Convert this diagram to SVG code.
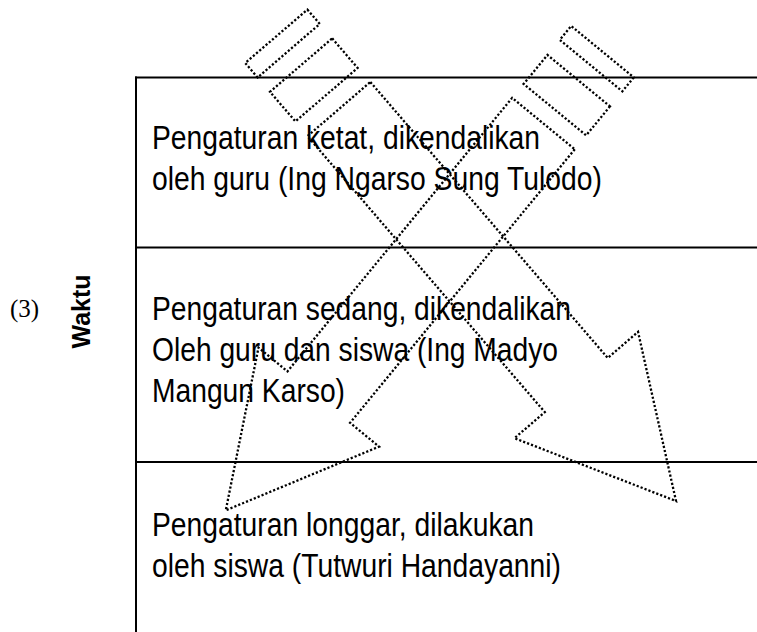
<svg xmlns="http://www.w3.org/2000/svg" width="757" height="632" viewBox="0 0 757 632">
<style>
.frame{stroke:#000;stroke-width:2;fill:none}
.lbl{font-family:"Liberation Sans",Arial,sans-serif;font-size:33px;fill:#000}
.dot{fill:none;stroke:#000;stroke-width:2.3;stroke-dasharray:2.2 2;stroke-linejoin:miter}
</style>
<rect width="757" height="632" fill="#fff"/>
<g id="frame">
<line class="frame" x1="136" y1="76.5" x2="136" y2="632"/>
<line class="frame" x1="135" y1="77.5" x2="757" y2="77.5"/>
<line class="frame" x1="136" y1="247.5" x2="757" y2="247.5"/>
<line class="frame" x1="136" y1="462" x2="757" y2="462"/>
</g>
<g id="axis-label">
<text x="10" y="317" font-family="'Liberation Serif','Times New Roman',serif" font-size="25">(3)</text>
<text transform="translate(90,311.5) rotate(-90)" text-anchor="middle" font-family="'Liberation Sans',Arial,sans-serif" font-weight="bold" font-size="25">Waktu</text>
</g>
<g id="row-top">
<text class="lbl" x="152" y="149" textLength="388" lengthAdjust="spacingAndGlyphs">Pengaturan ketat, dikendalikan</text>
<text class="lbl" x="152" y="190" textLength="450" lengthAdjust="spacingAndGlyphs">oleh guru (Ing Ngarso Sung Tulodo)</text>
</g>
<g id="row-middle">
<text class="lbl" x="152" y="320" textLength="419" lengthAdjust="spacingAndGlyphs">Pengaturan sedang, dikendalikan</text>
<text class="lbl" x="152" y="361" textLength="406" lengthAdjust="spacingAndGlyphs">Oleh guru dan siswa (Ing Madyo</text>
<text class="lbl" x="152" y="402" textLength="193" lengthAdjust="spacingAndGlyphs">Mangun Karso)</text>
</g>
<g id="row-bottom">
<text class="lbl" x="152" y="536" textLength="382" lengthAdjust="spacingAndGlyphs">Pengaturan longgar, dilakukan</text>
<text class="lbl" x="152" y="577" textLength="409" lengthAdjust="spacingAndGlyphs">oleh siswa (Tutwuri Handayanni)</text>
</g>
<g id="connectors">
<g id="arrow-down-right" transform="translate(276.3,36.3) rotate(49.3)">
<rect class="dot" x="0" y="-41" width="19" height="82"/>
<rect class="dot" x="38" y="-41" width="39" height="82"/>
<path class="dot" d="M96,-41.5 L460,-41.5 L460,-81.5 L613,0 L460,81.5 L460,41.5 L96,41.5 Z"/>
</g>
<g id="arrow-down-left" transform="translate(602.5,51.7) rotate(129.4)">
<rect class="dot" x="0" y="-40.5" width="18" height="81"/>
<rect class="dot" x="37.5" y="-40.5" width="37.5" height="81"/>
<path class="dot" d="M93,-40.5 L447,-40.5 L447,-78 L593.5,0 L447,78 L447,40.5 L93,40.5 Z"/>
</g>
</g>
</svg>
